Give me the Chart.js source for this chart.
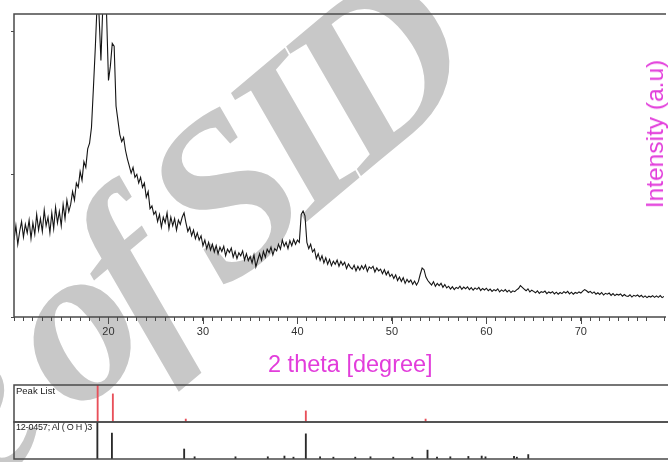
<!DOCTYPE html>
<html>
<head>
<meta charset="utf-8">
<script src="https://cdn.jsdelivr.net/npm/chart.js@4/dist/chart.umd.min.js"></script>
<style>
  body { margin: 0; background: #fff; }
  #wrap { position: relative; width: 668px; height: 462px; overflow: hidden; font-family: "Liberation Sans", Arial, sans-serif; }
  canvas { position: absolute; left: 0; }
  .lbl { position: absolute; white-space: nowrap; color: #222; }
  #ylab { left: 655px; top: 134px; transform: translate(-50%, -50%) rotate(-90deg); font-size: 24.5px; color: #e23ddb; }
  #xlab { left: 268px; top: 351px; font-size: 23.5px; color: #e23ddb; }
  #pl1 { left: 16px; top: 385px; font-size: 9.5px; }
  #pl2 { left: 16px; top: 422px; font-size: 9px; letter-spacing: -0.2px; }
</style>
</head>
<body>
<div id="wrap">
  <canvas id="bg" width="668" height="462" style="top:0"></canvas>
  <canvas id="main" width="668" height="345" style="top:0"></canvas>
  <canvas id="peaks" width="668" height="39" style="top:384px"></canvas>
  <canvas id="ref" width="668" height="39" style="top:421px"></canvas>
  <div class="lbl" id="ylab">Intensity (a.u)</div>
  <div class="lbl" id="xlab">2 theta [degree]</div>
  <div class="lbl" id="pl1">Peak List</div>
  <div class="lbl" id="pl2">12-0457; Al ( O H )3</div>
</div>
<script>
// scan: 10.0 .. 78.8 deg, step 0.2 (5 values per degree)
const scanStart = 10;
const scanStep = 0.2;
const counts = [
  270, 320, 255, 300, 335,   // 10
  280, 325, 295, 340, 275,   // 11
  330, 290, 360, 305, 345,   // 12
  300, 375, 320, 350, 295,   // 13
  365, 310, 385, 330, 370,   // 14
  320, 395, 345, 410, 370,   // 15
  395, 440, 410, 470, 455,   // 16
  510, 480, 545, 525, 590,   // 17
  610, 665, 800, 940, 1100,  // 18
  1060, 900, 1090, 1110, 1060, // 19
  830, 880, 960, 950, 740,   // 20
  690, 640, 615, 630, 585,   // 21
  555, 530, 505, 525, 490,   // 22
  500, 470, 490, 455, 470,   // 23
  420, 440, 380, 390, 360,   // 24
  370, 335, 360, 315, 350,   // 25
  330, 365, 310, 350, 320,   // 26
  345, 305, 340, 325, 350,   // 27
  365, 330, 300, 315, 285,   // 28
  305, 275, 295, 270, 285,   // 29
  250, 270, 240, 262, 235,   // 30
  255, 228, 250, 222, 245,   // 31
  230, 248, 215, 238, 226,   // 32
  242, 210, 230, 205, 225,   // 33
  215, 232, 200, 222, 198,   // 34
  212, 190, 218, 176, 200,   // 35
  222, 200, 230, 210, 238,   // 36
  226, 245, 218, 240, 232,   // 37
  255, 238, 270, 248, 262,   // 38
  240, 268, 250, 272, 255,   // 39
  270, 262, 360, 372, 355,   // 40
  262, 240, 255, 228, 238,   // 41
  205, 222, 198, 215, 190,   // 42
  208, 185, 202, 180, 196,   // 43
  185, 200, 178, 195, 182,   // 44
  192, 170, 186, 175, 168,   // 45
  182, 162, 178, 165, 180,   // 46
  168, 182, 160, 176, 170,   // 47
  178, 158, 172, 162, 168,   // 48
  152, 166, 148, 160, 142,   // 49
  150, 135, 148, 128, 140,   // 50
  125, 138, 118, 132, 122,   // 51
  130, 115, 126, 112, 124,   // 52
  150, 172, 166, 140, 128,   // 53
  120, 112, 124, 108, 118,   // 54
  110, 118, 104, 114, 102,   // 55
  108, 98, 106, 96, 104,     // 56
  100, 108, 97, 105, 99,     // 57
  106, 96, 103, 94, 102,     // 58
  97, 104, 93, 100, 95,      // 59
  101, 92, 98, 90, 96,       // 60
  92, 99, 88, 95, 90,        // 61
  96, 88, 94, 86, 92,        // 62
  89, 95, 100, 110, 104,     // 63
  98, 92, 99, 88, 94,        // 64
  90, 85, 92, 83, 89,        // 65
  86, 91, 82, 88, 84,        // 66
  89, 81, 87, 80, 86,        // 67
  82, 89, 84, 90, 81,        // 68
  87, 80, 86, 83, 88,        // 69
  84, 91, 96, 92, 86,        // 70
  90, 83, 88, 80, 85,        // 71
  79, 86, 77, 83, 80,        // 72
  84, 76, 82, 75, 80,        // 73
  77, 81, 73, 79, 74,        // 74
  72, 78, 70, 76, 73,        // 75
  77, 71, 76, 69, 74,        // 76
  68, 73, 70, 75, 69,        // 77
  74, 69, 75, 68, 72         // 78
];

const xMin = 10;
const xMax = 78.8;
const xLabels = [20, 30, 40, 50, 60, 70];
const yMax = 1063;
const yTicks = [0, 500, 1000];

// Peak List (red) and 12-0457 Al(OH)3 reference (black): position, relative height
const peakPos = [18.8, 20.4, 28.07, 40.7, 53.3];
const peakRel = [1.0, 0.76, 0.08, 0.30, 0.08];
const refPos = [18.77, 20.3, 27.9, 29.0, 33.3, 36.7, 38.45, 39.4, 40.7, 42.2, 43.6, 45.9, 47.5, 49.9, 51.9, 53.5, 54.5, 55.9, 57.8, 59.2, 59.6, 62.6, 62.9, 64.1];
const refRel = [1.0, 0.70, 0.27, 0.06, 0.06, 0.06, 0.08, 0.05, 0.68, 0.06, 0.05, 0.05, 0.06, 0.05, 0.05, 0.24, 0.05, 0.06, 0.07, 0.08, 0.06, 0.07, 0.05, 0.12];

// watermark behind the plot
(function () {
  const ctx = document.getElementById('bg').getContext('2d');
  ctx.save();
  ctx.translate(74, 417);
  ctx.rotate(-40 * Math.PI / 180);
  ctx.font = 'italic bold 225px "Liberation Serif"';
  ctx.letterSpacing = '-16px';
  ctx.fillStyle = '#c8c8c8';
  ctx.textBaseline = 'alphabetic';
  ctx.textAlign = 'left';
  ctx.fillText('of SID', 0, 0);
  ctx.textAlign = 'right';
  ctx.fillText('Archive ', 0, 0);
  ctx.restore();
})();

const frameColor = '#4a4a4a';

const boxPlugin = {
  id: 'box',
  afterDraw(chart) {
    const {ctx, chartArea: a} = chart;
    ctx.save();
    ctx.strokeStyle = frameColor;
    ctx.lineWidth = 1.5;
    ctx.beginPath();
    ctx.moveTo(a.right + 2, a.top);
    ctx.lineTo(a.left, a.top);
    ctx.lineTo(a.left, a.bottom);
    ctx.lineTo(a.right + 2, a.bottom);
    ctx.stroke();
    ctx.restore();
  }
};

const majorTicks = {
  id: 'majorTicks',
  afterDraw(chart) {
    const {ctx, chartArea: a} = chart;
    const x = chart.scales.x;
    ctx.save();
    ctx.strokeStyle = frameColor;
    ctx.lineWidth = 1;
    xLabels.forEach(v => {
      const px = Math.round(x.getPixelForValue(v)) + 0.5;
      ctx.beginPath();
      ctx.moveTo(px, a.bottom);
      ctx.lineTo(px, a.bottom + 7);
      ctx.stroke();
    });
    ctx.restore();
  }
};

new Chart(document.getElementById('main'), {
  type: 'line',
  data: {
    datasets: [{
      data: counts.map((c, i) => ({x: +(scanStart + i * scanStep).toFixed(1), y: c})),
      borderColor: '#151515',
      borderWidth: 1.1,
      pointRadius: 0,
      tension: 0
    }]
  },
  options: {
    responsive: false,
    animation: false,
    devicePixelRatio: 1,
    layout: { padding: { top: 14, left: 0, right: 0, bottom: 0 } },
    plugins: { legend: { display: false }, tooltip: { enabled: false } },
    scales: {
      x: {
        type: 'linear',
        min: xMin,
        max: xMax,
        afterFit: s => { s.height = 28; },
        border: { display: false },
        grid: { drawOnChartArea: false, tickLength: 4, color: frameColor },
        ticks: {
          stepSize: 1,
          autoSkip: false,
          maxRotation: 0,
          padding: 4,
          color: '#333',
          font: { family: 'Liberation Sans', size: 11 },
          callback: v => xLabels.includes(Math.round(v)) && Math.abs(v - Math.round(v)) < 1e-6 ? String(Math.round(v)) : ''
        }
      },
      y: {
        min: 0,
        max: yMax,
        afterFit: s => { s.width = 14; },
        afterBuildTicks: s => { s.ticks = yTicks.map(v => ({value: v})); },
        border: { display: false },
        grid: { drawOnChartArea: false, tickLength: 3, color: frameColor },
        ticks: { display: false }
      }
    }
  },
  plugins: [boxPlugin, majorTicks]
});

function stickPanel(id, pos, rel, color) {
  return new Chart(document.getElementById(id), {
    type: 'bar',
    data: {
      datasets: [{
        data: pos.map((p, i) => ({x: p, y: rel[i]})),
        backgroundColor: color,
        barThickness: 1.2,
        grouped: false
      }]
    },
    options: {
      responsive: false,
      animation: false,
      devicePixelRatio: 1,
      layout: { padding: { left: 14, top: 1, bottom: 1, right: 0 } },
      plugins: { legend: { display: false }, tooltip: { enabled: false } },
      scales: {
        x: { type: 'linear', display: false, offset: false, min: xMin, max: xMax },
        y: { display: false, min: 0, max: 1 }
      }
    },
    plugins: [boxPlugin]
  });
}

stickPanel('peaks', peakPos, peakRel, '#e8505a');
stickPanel('ref', refPos, refRel, '#2a2a2a');
</script>
</body>
</html>
